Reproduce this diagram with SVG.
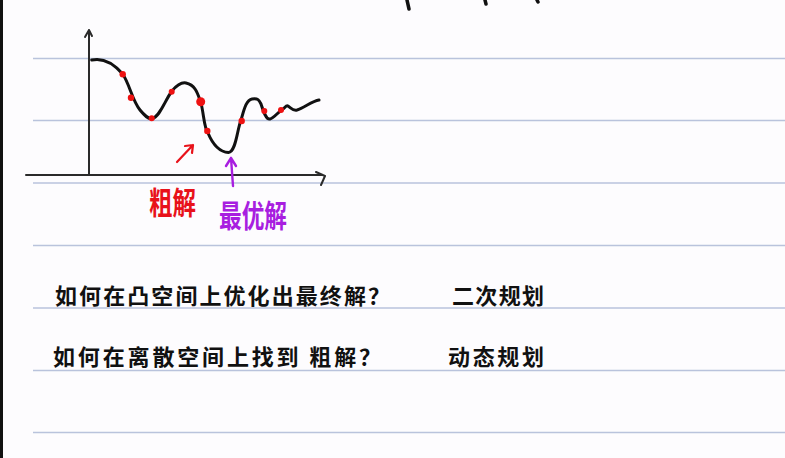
<svg xmlns="http://www.w3.org/2000/svg" width="785" height="458" viewBox="0 0 785 458">
<style>
.rule{stroke:#b9c3dc;stroke-width:1.5}
.ax{stroke:#2a2a2a;stroke-width:2;fill:none;stroke-linecap:round;stroke-linejoin:round}
.curve{stroke:#111;stroke-width:3;fill:none;stroke-linecap:round}
.dot{fill:#ee1111}
.hw{font-family:"Noto Sans CJK SC","Noto Sans CJK JP",sans-serif;font-size:22px;font-weight:700;fill:#111}
</style>
<rect width="785" height="458" fill="#fdfcfe"/>
<rect x="0" y="0" width="3" height="458" fill="#111"/>
<g id="rules">
<line class="rule" x1="33" y1="58.5" x2="785" y2="58.5"/>
<line class="rule" x1="33" y1="120.5" x2="785" y2="120.5"/>
<line class="rule" x1="33" y1="183" x2="785" y2="183"/>
<line class="rule" x1="33" y1="245.5" x2="785" y2="245.5"/>
<line class="rule" x1="33" y1="308" x2="785" y2="308"/>
<line class="rule" x1="33" y1="370.5" x2="785" y2="370.5"/>
<line class="rule" x1="33" y1="432.5" x2="785" y2="432.5"/>
</g>
<g id="top-fragments" stroke="#111" stroke-width="3.5" stroke-linecap="round">
<line x1="407" y1="0" x2="409" y2="9"/>
<line x1="485" y1="0" x2="486" y2="4"/>
<line x1="537" y1="0" x2="538" y2="2"/>
</g>
<g id="axes">
<path class="ax" d="M89 175 L89 30 M85 37 L89 30 L92 36"/>
<path class="ax" d="M26 175 L323 175 M316 172 L325 176 L321 185"/>
</g>
<g id="curve">
<path class="curve" d="M91.7 60 C105 57,115 65,122.7 74 C130 85,132 100,140 110 C145 116,148 119,152 118.5 C160 117,165 100,172 91 C177 85,181 82,186 83 C196 85,198 95,201 103 C204 115,204 128,208 133 C213 145,220 152,228.5 152.5 C236 152,237 130,241 120 C244 110,246 100,252 99 C258 98,259 100,261 104 C263 110,266 120,270 119 C274 118,278 112,282 110 C285 108,286 105,288 106 C291 108,293 111,297 110 C304 108,312 101,319 100"/>
<circle class="dot" cx="122.7" cy="74.3" r="3.2"/>
<circle class="dot" cx="131" cy="97.7" r="3.2"/>
<circle class="dot" cx="151.7" cy="118.3" r="3"/>
<circle class="dot" cx="171.7" cy="91.7" r="3"/>
<circle class="dot" cx="200.7" cy="101.7" r="4.5"/>
<circle class="dot" cx="207.3" cy="131" r="3.2"/>
<circle class="dot" cx="241.7" cy="121" r="3.2"/>
<circle class="dot" cx="264.3" cy="111" r="3"/>
<circle class="dot" cx="281" cy="110" r="3"/>
</g>
<g id="connectors">
<path d="M177 162 L193 145 M185 146 L193 145 L192 153" stroke="#e8121a" stroke-width="2.2" fill="none" stroke-linecap="round" stroke-linejoin="round"/>
<path d="M233 186 L231 158 M226 166 L231 158 L236 166" stroke="#a81ee0" stroke-width="2.4" fill="none" stroke-linecap="round" stroke-linejoin="round"/>
</g>
<g id="label-rough">
<text class="hw" x="149" y="214" style="font-size:31px;fill:#e8121a" textLength="47" lengthAdjust="spacingAndGlyphs">粗解</text>
</g>
<g id="label-optimal">
<text class="hw" x="219" y="227" style="font-size:31px;fill:#a81ee0" textLength="68" lengthAdjust="spacingAndGlyphs">最优解</text>
</g>
<g id="q1">
<text class="hw" x="55" y="304" textLength="335" lengthAdjust="spacing">如何在凸空间上优化出最终解？</text>
</g>
<g id="a1">
<text class="hw" x="452" y="304" textLength="92" lengthAdjust="spacing">二次规划</text>
</g>
<g id="q2">
<text class="hw" x="53" y="365" textLength="328" lengthAdjust="spacing">如何在离散空间上找到 粗解？</text>
</g>
<g id="a2">
<text class="hw" x="448" y="365" textLength="96" lengthAdjust="spacing">动态规划</text>
</g>
</svg>
